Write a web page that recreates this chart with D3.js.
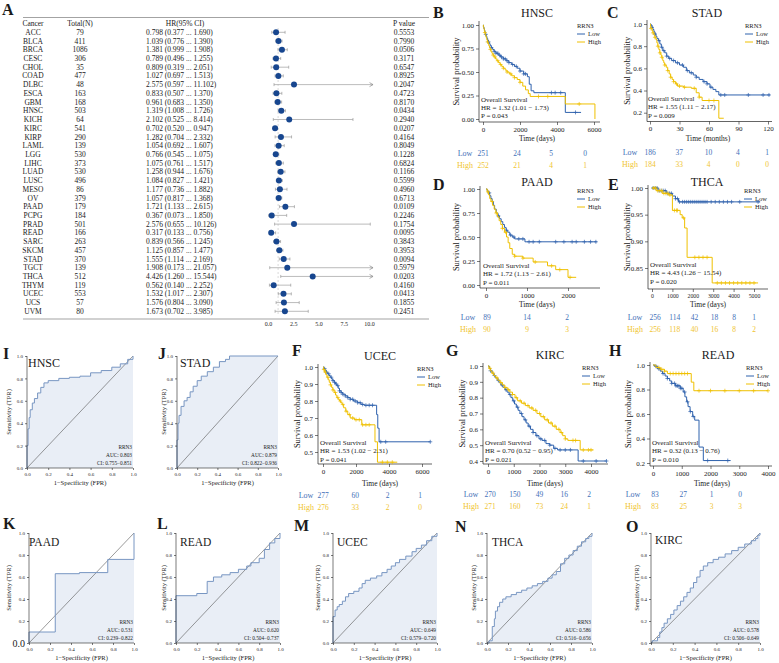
<!DOCTYPE html>
<html><head><meta charset="utf-8">
<script src="https://cdn.jsdelivr.net/npm/d3@7"></script>
<style>body{margin:0;background:#fff}svg{display:block;font-family:"Liberation Serif","Times New Roman",serif}</style>
</head><body><svg id="c" width="779" height="663"></svg>
<script>
// ---------------- Forest plot data (panel A) ----------------
const forestCancer=["ACC","BLCA","BRCA","CESC","CHOL","COAD","DLBC","ESCA","GBM","HNSC","KICH","KIRC","KIRP","LAML","LGG","LIHC","LUAD","LUSC","MESO","OV","PAAD","PCPG","PRAD","READ","SARC","SKCM","STAD","TGCT","THCA","THYM","UCEC","UCS","UVM"];
const forestN=[79,411,1086,306,35,477,48,163,168,503,64,541,290,139,530,373,530,496,86,379,179,184,501,166,263,457,370,139,512,119,553,57,80];
const forestHR=[0.798,1.039,1.381,0.789,0.809,1.027,2.575,0.833,0.961,1.319,2.102,0.702,1.282,1.054,0.766,1.075,1.258,1.084,1.177,1.057,1.721,0.367,2.576,0.317,0.839,1.125,1.555,1.908,4.426,0.562,1.532,1.576,1.673];
const forestLo=[0.377,0.776,0.999,0.496,0.319,0.697,0.597,0.507,0.683,1.008,0.525,0.520,0.704,0.692,0.545,0.761,0.944,0.827,0.736,0.817,1.133,0.073,0.655,0.133,0.566,0.857,1.114,0.173,1.260,0.140,1.017,0.804,0.702];
const forestHi=[1.690,1.390,1.908,1.255,2.051,1.513,11.102,1.370,1.350,1.726,8.414,0.947,2.332,1.607,1.075,1.517,1.676,1.421,1.882,1.368,2.615,1.850,10.126,0.756,1.245,1.477,2.169,21.057,15.544,2.252,2.307,3.090,3.985];
const forestP=["0.5553","0.7990","0.0506","0.3171","0.6547","0.8925","0.2047","0.4723","0.8170","0.0434","0.2940","0.0207","0.4164","0.8049","0.1228","0.6824","0.1166","0.5599","0.4960","0.6713","0.0109","0.2246","0.1754","0.0095","0.3843","0.3953","0.0094","0.5979","0.0203","0.4160","0.0413","0.1855","0.2451"];
const forestTicks=[0,2.5,5,7.5,10];

// ---------------- KM data: [time, survival] steps ----------------
const hnscLow=[[0,1],[25,0.98],[50,0.96],[80,0.94],[110,0.92],[140,0.9],[170,0.88],[210,0.86],[250,0.84],[290,0.82],[340,0.8],[390,0.78],[450,0.76],[520,0.74],[600,0.72],[700,0.7],[820,0.68],[950,0.66],[1100,0.64],[1250,0.62],[1400,0.6],[1550,0.58],[1700,0.56],[1850,0.54],[2000,0.51],[2200,0.48],[2400,0.45],[2500,0.37],[2600,0.3],[2750,0.28],[4450,0.07],[5300,0.07]];
const hnscHigh=[[0,1],[20,0.98],[45,0.96],[70,0.94],[95,0.92],[120,0.9],[150,0.88],[180,0.86],[210,0.84],[240,0.82],[275,0.8],[310,0.78],[350,0.76],[390,0.74],[430,0.72],[480,0.7],[540,0.68],[600,0.66],[670,0.64],[750,0.62],[830,0.6],[920,0.58],[1010,0.56],[1100,0.54],[1200,0.52],[1300,0.5],[1420,0.48],[1550,0.46],[1700,0.44],[1850,0.42],[2000,0.39],[2150,0.35],[2300,0.31],[2450,0.27],[2550,0.24],[4450,0.16],[6050,0]];
const hnscLowCens=[150,300,450,600,700,800,900,1000,1100,1200,1300,1400,1600,1800,2000,2200,2300,3700,3900,4200,5000];
const hnscHighCens=[100,250,400,550,650,800,950,1100,1300,1500,1700,2000,3000,3500,5200];
const hnscRiskT=[0,2000,4000,6000], hnscRiskLow=[251,24,5,0], hnscRiskHigh=[252,21,4,1];

const stadLow=[[0,1],[1,0.99],[2,0.97],[3,0.95],[4,0.93],[5,0.91],[6,0.89],[7,0.87],[8.5,0.85],[10,0.82],[11.5,0.79],[13,0.76],[15,0.74],[17,0.71],[19,0.69],[22,0.67],[26,0.65],[30,0.63],[34,0.61],[37,0.58],[40,0.56],[44,0.54],[47,0.52],[50,0.5],[54,0.48],[58,0.46],[61,0.43],[64,0.41],[67,0.39],[70,0.36],[122,0.36]];
const stadHigh=[[0,1],[0.5,0.98],[1,0.96],[2,0.94],[3,0.92],[4,0.9],[5,0.88],[6,0.86],[7,0.83],[8,0.8],[9,0.77],[10,0.74],[11,0.72],[12,0.7],[13,0.67],[14,0.65],[15,0.63],[16.5,0.61],[18,0.58],[19.5,0.55],[21,0.52],[22.5,0.5],[24,0.48],[26,0.46],[28,0.44],[34,0.43],[42,0.42],[47,0.38],[50,0.34],[53,0.31],[70,0.15],[75,0.15]];
const stadLowCens=[2,5,9,12,14,17,20,24,28,33,38,42,47,55,58,62,72,76,100,115,121];
const stadHighCens=[1,3,5,8,10,12,15,18,21,24,27,30,35,45,50,60,65];
const stadRiskT=[0,30,60,90,120], stadRiskLow=[186,37,10,4,1], stadRiskHigh=[184,33,4,0,0];

const paadLow=[[0,1],[30,0.98],[60,0.96],[90,0.93],[120,0.9],[150,0.87],[180,0.83],[210,0.79],[250,0.75],[290,0.72],[330,0.69],[370,0.66],[410,0.63],[450,0.6],[490,0.57],[530,0.55],[580,0.52],[640,0.5],[700,0.48],[950,0.45],[2700,0.45]];
const paadHigh=[[0,1],[30,0.97],[60,0.94],[90,0.9],[120,0.87],[160,0.83],[200,0.79],[240,0.75],[280,0.71],[320,0.67],[360,0.63],[400,0.59],[450,0.55],[500,0.5],[540,0.44],[580,0.38],[640,0.32],[700,0.3],[900,0.28],[1150,0.24],[1500,0.2],[1700,0.16],[2000,0.08],[2200,0.08]];
const paadLowCens=[80,300,500,600,680,800,900,1050,1150,1300,1700,1900,2100,2200,2400,2550,2680];
const paadHighCens=[50,150,250,400,480,700,900,1200,1600,1800,2050];
const paadRiskT=[0,1000,2000], paadRiskLow=[89,14,2], paadRiskHigh=[90,9,3];

const thcaLow=[[0,1],[300,0.995],[700,0.99],[1000,0.985],[1150,0.98],[1300,0.974],[5300,0.974]];
const thcaHigh=[[0,1],[200,0.995],[500,0.99],[800,0.987],[1000,0.958],[1380,0.95],[1480,0.944],[1600,0.925],[1720,0.87],[2950,0.822],[5200,0.822]];
const thcaLowCens=[50,150,250,350,450,550,650,750,850,950,1150,1250,1350,1500,1600,1700,1800,1900,2000,2100,2200,2300,2400,2500,2600,2700,2900,3100,3300,3500,3700,3900,4300,5200];
const thcaHighCens=[80,180,280,380,480,580,680,780,880,1100,1200,1250,1550,2100,2300,2500,2700,3200,3400,3600,3800,4000,4200,4400,4600,4800,5000];
const thcaRiskT=[0,1000,2000,3000,4000,5000], thcaRiskLow=[256,114,42,18,8,1], thcaRiskHigh=[256,118,40,16,8,2];

const ucecLow=[[0,1],[60,0.99],[130,0.98],[200,0.97],[280,0.96],[360,0.95],[440,0.94],[520,0.93],[600,0.92],[680,0.91],[760,0.9],[840,0.89],[920,0.875],[1000,0.86],[1100,0.85],[1200,0.84],[1350,0.83],[1500,0.82],[1650,0.81],[1850,0.8],[2100,0.79],[2300,0.78],[2500,0.775],[3250,0.72],[3320,0.64],[3400,0.56],[6500,0.56]];
const ucecHigh=[[0,1],[40,0.985],[100,0.97],[170,0.955],[240,0.94],[310,0.925],[380,0.91],[450,0.895],[520,0.88],[600,0.865],[680,0.85],[760,0.835],[840,0.82],[920,0.81],[1000,0.8],[1080,0.79],[1160,0.78],[1250,0.76],[1380,0.74],[1500,0.72],[1650,0.7],[1900,0.69],[2350,0.66],[3150,0.56],[3300,0.44],[4500,0.44]];
const ucecLowCens=[100,200,350,500,600,700,800,900,1000,1100,1200,1350,1500,1650,1800,1950,2100,2250,2400,2600,2800,3000,3500,3800,6500];
const ucecHighCens=[50,150,300,450,600,750,900,1050,1200,1400,1600,1800,2000,2200,2400,2600,2800,3600,3900,4200];
const ucecRiskT=[0,2000,4000,6000], ucecRiskLow=[277,60,2,1], ucecRiskHigh=[276,33,2,0];

const kircLow=[[0,1],[50,0.985],[100,0.97],[160,0.955],[220,0.94],[290,0.925],[360,0.91],[430,0.895],[500,0.88],[580,0.865],[660,0.85],[740,0.835],[820,0.82],[890,0.8],[960,0.78],[1030,0.76],[1100,0.74],[1170,0.72],[1240,0.7],[1320,0.68],[1400,0.66],[1480,0.64],[1560,0.62],[1650,0.6],[1750,0.58],[1860,0.56],[1980,0.54],[2100,0.53],[2250,0.51],[2400,0.5],[2550,0.48],[2700,0.47],[3500,0.4],[4600,0.4]];
const kircHigh=[[0,1],[40,0.985],[90,0.97],[150,0.955],[220,0.94],[300,0.925],[380,0.91],[470,0.895],[560,0.88],[650,0.865],[750,0.85],[850,0.835],[950,0.82],[1050,0.8],[1150,0.78],[1300,0.765],[1450,0.75],[1600,0.735],[1750,0.72],[1900,0.7],[2050,0.68],[2200,0.66],[2350,0.64],[2500,0.62],[2650,0.6],[2800,0.58],[2900,0.56],[3000,0.54],[3100,0.53],[3580,0.47],[4100,0.47]];
const kircLowCens=[100,250,400,550,700,850,1000,1150,1300,1450,1600,1750,1900,2050,2200,2400,2600,2800,3000,3200,3700,4200,4600];
const kircHighCens=[80,200,350,500,650,800,950,1100,1250,1400,1550,1700,1850,2000,2150,2300,2450,2600,2750,2850,3000,3300,3400,3700,3900,4000];
const kircRiskT=[0,1000,2000,3000,4000], kircRiskLow=[270,150,49,16,2], kircRiskHigh=[271,160,73,24,1];

const readLow=[[0,1],[60,0.99],[150,0.97],[250,0.95],[330,0.93],[420,0.91],[500,0.89],[580,0.87],[650,0.85],[780,0.83],[950,0.81],[1050,0.78],[1110,0.74],[1170,0.7],[1220,0.66],[1290,0.62],[1380,0.58],[1450,0.55],[1600,0.33],[1750,0.22],[2700,0.22]];
const readHigh=[[0,1],[100,0.98],[250,0.965],[400,0.95],[500,0.93],[1330,0.86],[1420,0.79],[4000,0.79]];
const readLowCens=[100,200,350,500,650,750,800,850,900,950,1000,1100,1200,1300,1400,1900,2600];
const readHighCens=[200,300,400,600,700,800,900,1000,1100,1200,1600,2000,2500,3000,3500,4000];
const readRiskT=[0,1000,2000,3000], readRiskLow=[83,27,1,0], readRiskHigh=[83,25,3,3];

// ---------------- ROC data: [FPR, TPR] ----------------
const rocHNSC=[[0,0],[0,0.2],[0.01,0.35],[0.02,0.45],[0.03,0.52],[0.05,0.58],[0.07,0.62],[0.1,0.67],[0.13,0.72],[0.16,0.76],[0.2,0.78],[0.3,0.8],[0.4,0.81],[0.5,0.82],[0.6,0.85],[0.7,0.87],[0.8,0.9],[0.88,0.93],[0.95,0.97],[1,1]];
const rocSTAD=[[0,0],[0,0.25],[0.01,0.4],[0.02,0.47],[0.04,0.55],[0.07,0.6],[0.1,0.63],[0.13,0.68],[0.16,0.73],[0.2,0.78],[0.24,0.82],[0.3,0.86],[0.36,0.9],[0.42,0.95],[0.48,0.97],[0.52,1],[1,1]];
const rocPAAD=[[0,0],[0,0.1],[0.25,0.63],[0.48,0.64],[0.75,0.76],[1,1]];
const rocREAD=[[0,0],[0,0.43],[0.2,0.45],[0.3,0.56],[0.36,0.6],[0.44,0.62],[0.52,0.64],[0.6,0.67],[0.68,0.7],[0.72,0.73],[0.8,0.77],[0.85,0.85],[0.9,0.91],[0.95,0.95],[1,1]];
const rocUCEC=[[0,0],[0,0.24],[0.02,0.3],[0.04,0.33],[0.06,0.35],[0.09,0.38],[0.12,0.42],[0.15,0.45],[0.2,0.47],[0.25,0.5],[0.28,0.54],[0.31,0.57],[0.36,0.59],[0.42,0.61],[0.47,0.64],[0.52,0.67],[0.56,0.7],[0.6,0.73],[0.64,0.76],[0.7,0.79],[0.76,0.83],[0.8,0.86],[0.85,0.89],[0.9,0.93],[0.95,0.97],[1,1]];
const rocTHCA=[[0,0],[0.02,0.02],[0.05,0.15],[0.07,0.22],[0.08,0.29],[0.1,0.33],[0.12,0.37],[0.15,0.4],[0.18,0.42],[0.23,0.44],[0.28,0.46],[0.33,0.48],[0.38,0.5],[0.43,0.52],[0.48,0.54],[0.53,0.56],[0.58,0.59],[0.62,0.62],[0.66,0.65],[0.7,0.72],[0.74,0.77],[0.78,0.8],[0.82,0.84],[0.86,0.88],[0.9,0.92],[0.94,0.95],[0.97,0.97],[1,1]];
const rocKIRC=[[0,0],[0.01,0.02],[0.06,0.05],[0.08,0.1],[0.1,0.14],[0.12,0.18],[0.15,0.22],[0.18,0.26],[0.21,0.3],[0.24,0.34],[0.27,0.38],[0.3,0.42],[0.33,0.46],[0.36,0.5],[0.39,0.55],[0.42,0.6],[0.45,0.66],[0.48,0.7],[0.52,0.73],[0.57,0.76],[0.62,0.78],[0.68,0.81],[0.74,0.84],[0.8,0.87],[0.86,0.9],[0.92,0.93],[0.96,0.95],[0.98,0.98],[1,1]];
const rocTicks=[0,0.2,0.4,0.6,0.8,1.0];

// ---------------- drawing ----------------
const FONT='"Liberation Serif","Times New Roman",serif';
const LOWC="#2f62ad", HIGHC="#efc000", LOWT="#3f70b8", HIGHT="#f0c430";
const svg=d3.select("#c");
svg.append("rect").attr("width",779).attr("height",663).attr("fill","#fff");

function txt(g,x,y,s,size,o={}){
  const t=g.append("text").attr("x",x).attr("y",y).attr("font-size",size).attr("font-family",FONT).text(s);
  if(o.anchor) t.attr("text-anchor",o.anchor);
  if(o.weight) t.attr("font-weight",o.weight);
  t.attr("fill",o.fill||"#1a1a1a");
  return t;
}
function styleAxis(a,size){
  a.select(".domain").remove();
  a.selectAll("text").attr("font-size",size).attr("font-family",FONT).attr("fill","#222");
  a.selectAll("line").attr("stroke","#222").attr("stroke-width",0.6);
}

// ---- Panel A: forest table ----
(function(){
  const g=svg.append("g");
  txt(g,2,15,"A",16,{weight:"bold"});
  const fy=d3.scalePoint().domain(forestCancer).range([32.3,311.3]);
  const fx=d3.scaleLinear().domain([0,10]).range([268,369]);
  const xmax=10.4;
  g.append("line").attr("x1",23).attr("x2",429).attr("y1",17.5).attr("y2",17.5).attr("stroke","#999").attr("stroke-width",0.9);
  g.append("line").attr("x1",23).attr("x2",429).attr("y1",319).attr("y2",319).attr("stroke","#999").attr("stroke-width",0.9);
  txt(g,33,25.5,"Cancer",7.5,{anchor:"middle"});
  txt(g,80,25.5,"Total(N)",7.5,{anchor:"middle"});
  txt(g,185,25.5,"HR(95% CI)",7.5,{anchor:"middle"});
  txt(g,404,25.5,"P value",7.5,{anchor:"middle"});
  g.append("line").attr("x1",fx(1)).attr("x2",fx(1)).attr("y1",28).attr("y2",316).attr("stroke","#ccc").attr("stroke-width",0.7).attr("stroke-dasharray","2,2");
  forestCancer.forEach((c,i)=>{
    const yy=fy(c), f=d3.format(".3f");
    txt(g,33,yy+2.6,c,7.5,{anchor:"middle"});
    txt(g,80,yy+2.6,forestN[i],7.5,{anchor:"middle"});
    txt(g,146,yy+2.6,`${f(forestHR[i])} (${f(forestLo[i])} ... ${f(forestHi[i])})`,7.5);
    txt(g,404,yy+2.6,forestP[i],7.5,{anchor:"middle"});
    const hiC=Math.min(forestHi[i],xmax);
    g.append("line").attr("x1",fx(forestLo[i])).attr("x2",fx(hiC)).attr("y1",yy).attr("y2",yy).attr("stroke","#aaa").attr("stroke-width",0.8);
    g.append("line").attr("x1",fx(forestLo[i])).attr("x2",fx(forestLo[i])).attr("y1",yy-1.5).attr("y2",yy+1.5).attr("stroke","#999").attr("stroke-width",0.7);
    if(forestHi[i]>xmax){
      g.append("path").attr("d",`M${fx(hiC)-3.5},${yy-2}L${fx(hiC)},${yy}L${fx(hiC)-3.5},${yy+2}`).attr("fill","none").attr("stroke","#888").attr("stroke-width",0.7);
    } else {
      g.append("line").attr("x1",fx(hiC)).attr("x2",fx(hiC)).attr("y1",yy-1.5).attr("y2",yy+1.5).attr("stroke","#999").attr("stroke-width",0.7);
    }
    g.append("circle").attr("cx",fx(forestHR[i])).attr("cy",yy).attr("r",3).attr("fill","#17468f");
  });
  const ax=g.append("g").attr("transform","translate(0,319)").call(d3.axisBottom(fx).tickValues(forestTicks).tickFormat(d3.format(".1f")).tickSize(0).tickPadding(3));
  styleAxis(ax,6);
})();

// ---- KM panels ----
function stepAt(data,t){let s=data[0][1];for(const d of data){if(d[0]<=t)s=d[1];else break;}return s;}
function kmPanel(p){
  const g=svg.append("g");
  const x=d3.scaleLinear().domain([0,p.xRef]).range([p.x0,p.x1]);
  const y=d3.scaleLinear().domain([p.yRef,1]).range([p.y0,p.y1]);
  const rx=d3.scaleLinear().domain([0,p.rRef]).range([p.r0,p.r1]);
  txt(g,p.lx,p.ly,p.letter,16,{weight:"bold"});
  txt(g,p.tx,p.ty,p.title,12,{anchor:"middle"});
  g.append("line").attr("x1",p.ax).attr("x2",p.ax).attr("y1",p.top).attr("y2",p.bottom).attr("stroke","#222").attr("stroke-width",0.7);
  g.append("line").attr("x1",p.ax).attr("x2",p.right).attr("y1",p.bottom).attr("y2",p.bottom).attr("stroke","#222").attr("stroke-width",0.7);
  const ya=g.append("g").attr("transform",`translate(${p.ax},0)`).call(d3.axisLeft(y).tickValues(p.yTicks).tickFormat(d3.format(p.yFmt)).tickSize(3).tickPadding(2));
  styleAxis(ya,7);
  const xa=g.append("g").attr("transform",`translate(0,${p.bottom})`).call(d3.axisBottom(x).tickValues(p.xTicks).tickFormat(d3.format("d")).tickSize(3).tickPadding(2));
  styleAxis(xa,p.xFont||7);
  g.append("text").attr("transform",`translate(${p.ylabX+3},${(p.top+p.bottom)/2}) rotate(-90)`).attr("text-anchor","middle").attr("font-size",8.5).attr("font-family",FONT).attr("fill","#1a1a1a").text("Survival probability");
  txt(g,p.xlabX,p.xlabY+1,p.xlab,7.5,{anchor:"middle"});
  const line=d3.line().x(d=>x(d[0])).y(d=>y(d[1])).curve(d3.curveStepAfter);
  [[p.low,p.lowCens,LOWC],[p.high,p.highCens,HIGHC]].forEach(([data,cens,col])=>{
    g.append("path").attr("d",line(data)).attr("fill","none").attr("stroke",col).attr("stroke-width",1);
    let d="";
    cens.forEach(t=>{const cx=x(t),cy=y(stepAt(data,t));d+=`M${cx-2},${cy}h4M${cx},${cy-2}v4`;});
    g.append("path").attr("d",d).attr("stroke",col).attr("stroke-width",0.7).attr("fill","none");
  });
  // legend
  txt(g,p.legX,p.legY,"RRN3",6.5);
  [["Low",LOWC,8],["High",HIGHC,16]].forEach(([s,c,dy])=>{
    g.append("line").attr("x1",p.legX).attr("x2",p.legX+8).attr("y1",p.legY+dy-2).attr("y2",p.legY+dy-2).attr("stroke",c).attr("stroke-width",1);
    txt(g,p.legX+11,p.legY+dy,s,6.5);
  });
  // annotation
  txt(g,p.annX,p.annY,"Overall Survival",7);
  txt(g,p.annX,p.annY+8.4,p.hr,7);
  txt(g,p.annX,p.annY+16.8,p.pv,7);
  // risk table
  txt(g,p.rlx,p.ry[0],"Low",8,{anchor:"middle",fill:LOWT});
  txt(g,p.rlx,p.ry[1],"High",8,{anchor:"middle",fill:HIGHT});
  p.riskT.forEach((t,i)=>{
    txt(g,rx(t),p.ry[0],p.riskLow[i],7.5,{anchor:"middle",fill:LOWT});
    txt(g,rx(t),p.ry[1],p.riskHigh[i],7.5,{anchor:"middle",fill:HIGHT});
  });
}

kmPanel({letter:"B",lx:433,ly:18,title:"HNSC",tx:537,ty:17,xRef:6000,x0:483,x1:594,yRef:0,y0:119,y1:25,ax:479,top:21,bottom:122,right:600,
  yTicks:[0,0.25,0.5,0.75,1],yFmt:".2f",xTicks:[0,2000,4000,6000],ylabX:456,xlab:"Time (days)",xlabX:537,xlabY:140,legX:577,legY:28,
  annX:481,annY:101.5,hr:"HR = 1.32 (1.01 − 1.73)",pv:"P = 0.043",rlx:465,ry:[156,168],rRef:6000,r0:483,r1:585,
  riskT:hnscRiskT,riskLow:hnscRiskLow,riskHigh:hnscRiskHigh,low:hnscLow,high:hnscHigh,lowCens:hnscLowCens,highCens:hnscHighCens});
kmPanel({letter:"C",lx:607,ly:18,title:"STAD",tx:707,ty:17,xRef:120,x0:650,x1:768,yRef:0.2,y0:112.7,y1:24,ax:647,top:20,bottom:121.5,right:772,
  yTicks:[0.2,0.4,0.6,0.8,1.0],yFmt:".1f",xTicks:[0,30,60,90,120],ylabX:627,xlab:"Time (months)",xlabX:708,xlabY:140,legX:745,legY:28,
  annX:648,annY:101,hr:"HR = 1.55 (1.11 − 2.17)",pv:"P = 0.009",rlx:630,ry:[155,167],rRef:120,r0:650,r1:767,
  riskT:stadRiskT,riskLow:stadRiskLow,riskHigh:stadRiskHigh,low:stadLow,high:stadHigh,lowCens:stadLowCens,highCens:stadHighCens});
kmPanel({letter:"D",lx:433,ly:190,title:"PAAD",tx:537,ty:186,xRef:1000,x0:486,x1:527,yRef:0,y0:285,y1:189,ax:480,top:186,bottom:288,right:600,
  yTicks:[0,0.25,0.5,0.75,1],yFmt:".2f",xTicks:[0,1000,2000],ylabX:456,xlab:"Time (days)",xlabX:537,xlabY:306,legX:577,legY:193,
  annX:483,annY:268,hr:"HR = 1.72 (1.13 − 2.61)",pv:"P = 0.011",rlx:468,ry:[320,332],rRef:2000,r0:487,r1:567,
  riskT:paadRiskT,riskLow:paadRiskLow,riskHigh:paadRiskHigh,low:paadLow,high:paadHigh,lowCens:paadLowCens,highCens:paadHighCens});
kmPanel({letter:"E",lx:608,ly:190,title:"THCA",tx:707,ty:186,xRef:5000,x0:652,x1:754,yRef:0.85,y0:268,y1:188,ax:648,top:185,bottom:289,right:768,xFont:5.8,
  yTicks:[0.85,0.9,0.95,1.0],yFmt:".2f",xTicks:[0,1000,2000,3000,4000,5000],ylabX:627,xlab:"Time (days)",xlabX:708,xlabY:306,legX:744,legY:193,
  annX:650,annY:267,hr:"HR = 4.43 (1.26 − 15.54)",pv:"P = 0.020",rlx:635,ry:[320,332],rRef:5000,r0:655,r1:754,
  riskT:thcaRiskT,riskLow:thcaRiskLow,riskHigh:thcaRiskHigh,low:thcaLow,high:thcaHigh,lowCens:thcaLowCens,highCens:thcaHighCens});
kmPanel({letter:"F",lx:292,ly:356,title:"UCEC",tx:380,ty:360,xRef:6000,x0:323,x1:422,yRef:0.5,y0:452,y1:367,ax:318,top:364,bottom:464,right:432,
  yTicks:[0.5,0.6,0.7,0.8,0.9,1.0],yFmt:".1f",xTicks:[0,2000,4000,6000],ylabX:297,xlab:"Time (days)",xlabX:380,xlabY:485,legX:417,legY:371,
  annX:320,annY:445,hr:"HR = 1.53 (1.02 − 2.31)",pv:"P = 0.041",rlx:306,ry:[498,510],rRef:6000,r0:323,r1:420,
  riskT:ucecRiskT,riskLow:ucecRiskLow,riskHigh:ucecRiskHigh,low:ucecLow,high:ucecHigh,lowCens:ucecLowCens,highCens:ucecHighCens});
kmPanel({letter:"G",lx:446,ly:356,title:"KIRC",tx:550,ty:359,xRef:4000,x0:488,x1:591,yRef:0.4,y0:461,y1:366,ax:483,top:363,bottom:464,right:608,
  yTicks:[0.4,0.5,0.6,0.7,0.8,0.9,1.0],yFmt:".1f",xTicks:[0,1000,2000,3000,4000],ylabX:462,xlab:"Time (days)",xlabX:545,xlabY:485,legX:582,legY:370,
  annX:485,annY:445,hr:"HR = 0.70 (0.52 − 0.95)",pv:"P = 0.021",rlx:471,ry:[497,509],rRef:4000,r0:490,r1:589,
  riskT:kircRiskT,riskLow:kircRiskLow,riskHigh:kircRiskHigh,low:kircLow,high:kircHigh,lowCens:kircLowCens,highCens:kircHighCens});
kmPanel({letter:"H",lx:609,ly:356,title:"READ",tx:718,ty:359,xRef:4000,x0:653,x1:768,yRef:0.2,y0:463,y1:365,ax:650,top:362,bottom:466,right:772,
  yTicks:[0.2,0.4,0.6,0.8,1.0],yFmt:".1f",xTicks:[0,1000,2000,3000,4000],ylabX:628,xlab:"Time (days)",xlabX:712,xlabY:485,legX:746,legY:370,
  annX:652,annY:445,hr:"HR = 0.32 (0.13 − 0.76)",pv:"P = 0.010",rlx:633,ry:[497,509],rRef:3000,r0:655,r1:740,
  riskT:readRiskT,riskLow:readRiskLow,riskHigh:readRiskHigh,low:readLow,high:readHigh,lowCens:readLowCens,highCens:readHighCens});

// ---- ROC panels ----
function rocPanel(p){
  const g=svg.append("g");
  const x=d3.scaleLinear().domain([0,1]).range([p.x0,p.x1]);
  const y=d3.scaleLinear().domain([0,1]).range([p.y0,p.y1]);
  const area=d3.area().x(d=>x(d[0])).y0(y(0)).y1(d=>y(d[1])).curve(d3.curveStepAfter);
  g.append("path").attr("d",area(p.data)).attr("fill","#e9eef6");
  g.append("line").attr("x1",x(0)).attr("y1",y(0)).attr("x2",x(1)).attr("y2",y(1)).attr("stroke","#555").attr("stroke-width",0.6);
  const line=d3.line().x(d=>x(d[0])).y(d=>y(d[1])).curve(d3.curveStepAfter);
  g.append("path").attr("d",line(p.data)).attr("fill","none").attr("stroke","#7896c2").attr("stroke-width",1);
  g.append("line").attr("x1",p.x0).attr("x2",p.x0).attr("y1",p.y0).attr("y2",p.y1).attr("stroke","#222").attr("stroke-width",0.6);
  g.append("line").attr("x1",p.x0).attr("x2",p.x1).attr("y1",p.y0).attr("y2",p.y0).attr("stroke","#222").attr("stroke-width",0.6);
  const ya=g.append("g").attr("transform",`translate(${p.x0},0)`).call(d3.axisLeft(y).tickValues(rocTicks).tickFormat(d3.format(".1f")).tickSize(2).tickPadding(2));
  styleAxis(ya,5);
  if(p.bigZero) ya.selectAll("text").filter(d=>d===0).attr("font-size",10);
  const xa=g.append("g").attr("transform",`translate(0,${p.y0})`).call(d3.axisBottom(x).tickValues(rocTicks).tickFormat(d3.format(".1f")).tickSize(2).tickPadding(2));
  styleAxis(xa,5);
  txt(g,p.lx,p.ly,p.letter,16,{weight:"bold"});
  txt(g,p.tx,p.ty,p.title,p.tsize||11.5);
  g.append("text").attr("transform",`translate(${p.ylabX+2.5},${(p.y0+p.y1)/2}) rotate(-90)`).attr("text-anchor","middle").attr("font-size",6.5).attr("font-family",FONT).attr("fill","#1a1a1a").text("Sensitivity (TPR)");
  txt(g,(p.x0+p.x1)/2,p.y0+17,"1−Specificity (FPR)",6.5,{anchor:"middle"});
  txt(g,p.x1-1,p.y0-19,"RRN3",5.3,{anchor:"end"});
  txt(g,p.x1-1,p.y0-11,p.auc,5.3,{anchor:"end"});
  txt(g,p.x1-1,p.y0-3,p.ci,5.3,{anchor:"end"});
}
rocPanel({letter:"I",lx:3,ly:359,title:"HNSC",tx:28,ty:367,tsize:12,x0:27,x1:133,y0:468,y1:356,ylabX:8,data:rocHNSC,auc:"AUC: 0.803",ci:"CI: 0.755−0.851"});
rocPanel({letter:"J",lx:158,ly:359,title:"STAD",tx:180,ty:367,tsize:12,x0:177,x1:278,y0:468,y1:356,ylabX:163,data:rocSTAD,auc:"AUC: 0.879",ci:"CI: 0.822−0.936"});
rocPanel({letter:"K",lx:3,ly:529,title:"PAAD",tx:29,ty:546,x0:29,x1:134,y0:643,y1:533,ylabX:8,data:rocPAAD,auc:"AUC: 0.531",ci:"CI: 0.239−0.822",bigZero:true});
rocPanel({letter:"L",lx:157,ly:529,title:"READ",tx:180,ty:546,x0:176,x1:280,y0:643,y1:533,ylabX:163,data:rocREAD,auc:"AUC: 0.620",ci:"CI: 0.504−0.737"});
rocPanel({letter:"M",lx:294,ly:531,title:"UCEC",tx:337,ty:546,x0:333,x1:437,y0:643,y1:533,ylabX:317,data:rocUCEC,auc:"AUC: 0.649",ci:"CI: 0.579−0.720"});
rocPanel({letter:"N",lx:455,ly:532,title:"THCA",tx:492,ty:546,x0:487,x1:592,y0:643,y1:533,ylabX:473,data:rocTHCA,auc:"AUC: 0.586",ci:"CI: 0.516−0.656"});
rocPanel({letter:"O",lx:626,ly:532,title:"KIRC",tx:655,ty:544,x0:651,x1:760,y0:643,y1:533,ylabX:636,data:rocKIRC,auc:"AUC: 0.578",ci:"CI: 0.506−0.649"});
</script>
</body></html>
